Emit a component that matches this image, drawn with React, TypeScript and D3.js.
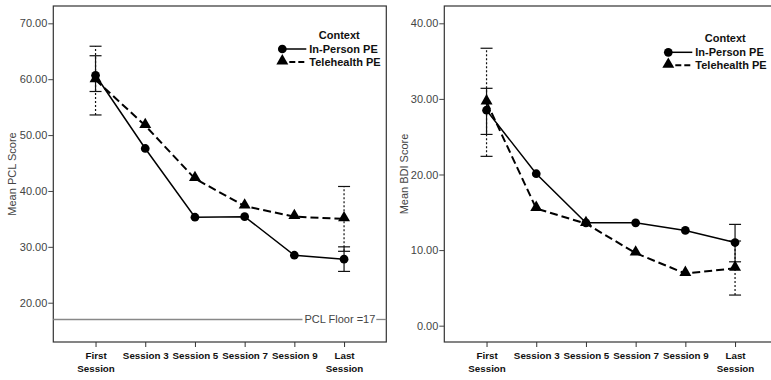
import { useEffect, useRef } from 'react';
import * as d3 from 'd3';

const sessions = ['First Session', 'Session 3', 'Session 5', 'Session 7', 'Session 9', 'Last Session'];
const seriesNames = ['In-Person PE', 'Telehealth PE'];

const pclInPerson = [60.7, 47.6, 35.3, 35.4, 28.5, 27.8];
const pclTelehealth = [59.9, 51.7, 42.2, 37.3, 35.4, 35.0];
const pclInPersonCI: ([number, number] | null)[] = [[57.8, 64.2], null, null, null, null, [25.6, 30.0]];
const pclTelehealthCI: ([number, number] | null)[] = [[53.6, 65.9], null, null, null, null, [29.2, 40.8]];
const pclTicks = [20, 30, 40, 50, 60, 70];
const pclFloor = 17;

const bdiInPerson = [28.5, 20.1, 13.6, 13.6, 12.6, 11.0];
const bdiTelehealth = [29.6, 15.5, 13.5, 9.6, 6.9, 7.6];
const bdiInPersonCI: ([number, number] | null)[] = [[25.3, 31.4], null, null, null, null, [8.45, 13.4]];
const bdiTelehealthCI: ([number, number] | null)[] = [[22.4, 36.7], null, null, null, null, [4.05, 11.2]];
const bdiTicks = [0, 10, 20, 30, 40];

interface PanelConfig {
  x0: number;
  x1: number;
  yDomain: [number, number];
  ticks: number[];
  yTitle: string;
  titleX: number;
  inPerson: number[];
  telehealth: number[];
  inPersonCI: ([number, number] | null)[];
  telehealthCI: ([number, number] | null)[];
  legendX: number;
  legendY: number;
  floor?: number;
}

const TOP = 6;
const BOTTOM = 342;
const FONT = '"Liberation Sans", Arial, sans-serif';

function drawPanel(el: SVGGElement, cfg: PanelConfig) {
  const g = d3.select(el);
  g.selectAll('*').remove();

  const x = d3.scalePoint<string>().domain(sessions).range([cfg.x0, cfg.x1]).padding(0.85);
  const y = d3.scaleLinear().domain(cfg.yDomain).range([BOTTOM, TOP]);

  // frame
  g.append('rect')
    .attr('x', cfg.x0)
    .attr('y', TOP)
    .attr('width', cfg.x1 - cfg.x0)
    .attr('height', BOTTOM - TOP)
    .attr('fill', 'none')
    .attr('stroke', '#333')
    .attr('stroke-width', 1.2);

  // y axis
  const yAxis = g.append('g')
    .attr('transform', `translate(${cfg.x0},0)`)
    .call(d3.axisLeft(y).tickValues(cfg.ticks).tickFormat(d3.format('.2f')).tickSize(5).tickPadding(1));
  yAxis.select('.domain').remove();
  yAxis.selectAll('.tick line').attr('stroke', '#444');
  yAxis.selectAll('text')
    .attr('fill', '#444')
    .style('font-family', FONT)
    .style('font-size', '11px');

  // x axis
  const xAxis = g.append('g')
    .attr('transform', `translate(0,${BOTTOM})`)
    .call(d3.axisBottom(x).tickSize(5).tickFormat(() => ''));
  xAxis.select('.domain').remove();
  xAxis.selectAll('.tick line').attr('stroke', '#333');
  xAxis.selectAll('.tick text').remove();
  xAxis.selectAll('.tick').each(function (d) {
    const words = (d as string).split(' ');
    const lines = words.length === 2 && !/\d/.test(words[1]) ? words : [d as string];
    const t = d3.select(this).append('text')
      .attr('text-anchor', 'middle')
      .attr('fill', '#111')
      .style('font-family', FONT)
      .style('font-size', '9.8px')
      .style('font-weight', 'bold');
    lines.forEach((line, i) => {
      t.append('tspan').attr('x', 0).attr('y', 17 + i * 12.6).text(line);
    });
  });

  // y title
  g.append('text')
    .attr('transform', `translate(${cfg.titleX},${(TOP + BOTTOM) / 2}) rotate(-90)`)
    .attr('text-anchor', 'middle')
    .attr('fill', '#444')
    .style('font-family', FONT)
    .style('font-size', '11px')
    .text(cfg.yTitle);

  // floor reference line
  if (cfg.floor !== undefined) {
    const fy = y(cfg.floor);
    const label = g.append('text')
      .attr('x', cfg.x1 - 11)
      .attr('y', fy + 4)
      .attr('text-anchor', 'end')
      .attr('fill', '#444')
      .style('font-family', FONT)
      .style('font-size', '11px')
      .text(`PCL Floor =${cfg.floor}`);
    const w = (label.node() as SVGTextElement).getComputedTextLength();
    g.append('line')
      .attr('x1', cfg.x0).attr('x2', cfg.x1 - 11 - w - 2)
      .attr('y1', fy).attr('y2', fy)
      .attr('stroke', '#888').attr('stroke-width', 1.3);
    g.append('line')
      .attr('x1', cfg.x1 - 10).attr('x2', cfg.x1)
      .attr('y1', fy).attr('y2', fy)
      .attr('stroke', '#888').attr('stroke-width', 1.3);
  }

  // error bars
  const drawCI = (ci: ([number, number] | null)[], dash: string | null) => {
    ci.forEach((c, i) => {
      if (!c) return;
      const cx = x(sessions[i]) as number;
      g.append('line')
        .attr('x1', cx).attr('x2', cx)
        .attr('y1', y(c[0])).attr('y2', y(c[1]))
        .attr('stroke', '#111').attr('stroke-width', 1.2)
        .attr('stroke-dasharray', dash);
      c.forEach((v) => {
        g.append('line')
          .attr('x1', cx - 6).attr('x2', cx + 6)
          .attr('y1', y(v)).attr('y2', y(v))
          .attr('stroke', '#111').attr('stroke-width', 1.2);
      });
    });
  };
  drawCI(cfg.telehealthCI, '2,2');
  drawCI(cfg.inPersonCI, null);

  // lines
  const line = d3.line<number>()
    .x((_, i) => x(sessions[i]) as number)
    .y((d) => y(d));

  g.append('path')
    .datum(cfg.telehealth)
    .attr('d', line)
    .attr('fill', 'none')
    .attr('stroke', '#000')
    .attr('stroke-width', 2)
    .attr('stroke-dasharray', '8,4');

  g.append('path')
    .datum(cfg.inPerson)
    .attr('d', line)
    .attr('fill', 'none')
    .attr('stroke', '#000')
    .attr('stroke-width', 1.5);

  const circle = d3.symbol().type(d3.symbolCircle).size(60);
  const triangle = d3.symbol().type(d3.symbolTriangle).size(62);

  g.selectAll('path.tri')
    .data(cfg.telehealth)
    .enter()
    .append('path')
    .attr('class', 'tri')
    .attr('d', triangle)
    .attr('transform', (d, i) => `translate(${x(sessions[i])},${y(d) - 1})`)
    .attr('fill', '#000');

  g.selectAll('path.dot')
    .data(cfg.inPerson)
    .enter()
    .append('path')
    .attr('class', 'dot')
    .attr('d', circle)
    .attr('transform', (d, i) => `translate(${x(sessions[i])},${y(d)})`)
    .attr('fill', '#000');

  // legend
  const lg = g.append('g').attr('transform', `translate(${cfg.legendX},${cfg.legendY})`);
  lg.append('text')
    .attr('x', 57)
    .attr('y', 0)
    .attr('dy', '0.35em')
    .attr('text-anchor', 'middle')
    .attr('fill', '#111')
    .style('font-family', FONT)
    .style('font-size', '11px')
    .style('font-weight', 'bold')
    .text('Context');

  seriesNames.forEach((name, i) => {
    const row = lg.append('g').attr('transform', `translate(0,${14 + i * 13})`);
    row.append('line')
      .attr('x1', i === 0 ? 0 : 7).attr('x2', 24)
      .attr('y1', 0).attr('y2', 0)
      .attr('stroke', '#000')
      .attr('stroke-width', i === 0 ? 1.5 : 2)
      .attr('stroke-dasharray', i === 0 ? null : '6,3');
    row.append('path')
      .attr('d', i === 0 ? circle : triangle)
      .attr('transform', `translate(0,${i === 0 ? 0 : -1})`)
      .attr('fill', '#000');
    row.append('text')
      .attr('x', 27)
      .attr('y', 0)
      .attr('dy', '0.35em')
      .attr('fill', '#111')
      .style('font-family', FONT)
      .style('font-size', '11px')
      .style('font-weight', 'bold')
      .text(name);
  });
}

export default function App() {
  const leftRef = useRef<SVGGElement>(null);
  const rightRef = useRef<SVGGElement>(null);

  useEffect(() => {
    document.body.style.margin = '0';
    if (leftRef.current) {
      drawPanel(leftRef.current, {
        x0: 53.3,
        x1: 386.3,
        yDomain: [12.97, 73.1],
        ticks: pclTicks,
        yTitle: 'Mean PCL Score',
        titleX: 16,
        inPerson: pclInPerson,
        telehealth: pclTelehealth,
        inPersonCI: pclInPersonCI,
        telehealthCI: pclTelehealthCI,
        legendX: 282.3,
        legendY: 35,
        floor: pclFloor,
      });
    }
    if (rightRef.current) {
      drawPanel(rightRef.current, {
        x0: 444.3,
        x1: 777.3,
        yDomain: [-2.16, 42.29],
        ticks: bdiTicks,
        yTitle: 'Mean BDI Score',
        titleX: 408,
        inPerson: bdiInPerson,
        telehealth: bdiTelehealth,
        inPersonCI: bdiInPersonCI,
        telehealthCI: bdiTelehealthCI,
        legendX: 668.3,
        legendY: 38.3,
      });
    }
  }, []);

  return (
    <svg width={771} height={380} style={{ display: 'block', background: '#fff' }}>
      <g ref={leftRef} />
      <g ref={rightRef} />
    </svg>
  );
}
